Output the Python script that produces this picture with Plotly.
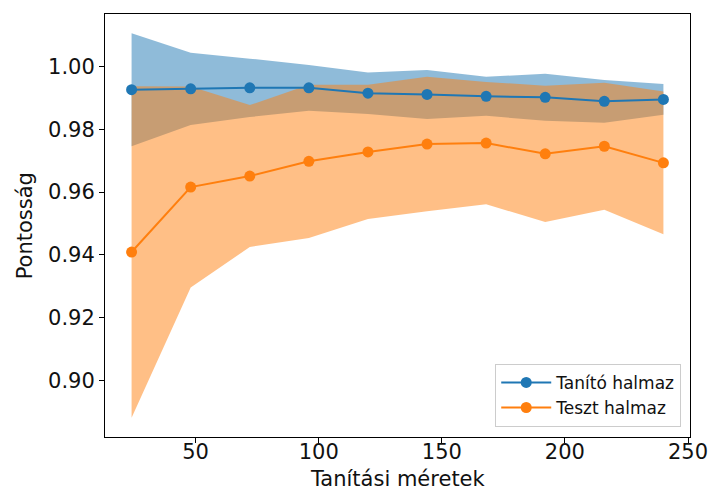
import numpy as np
import plotly.graph_objects as go

# Learning-curve data: training sizes, mean accuracies and their standard deviations
train_sizes = [24, 48, 72, 96, 120, 144, 168, 192, 216, 240]
train_mean = [0.9926, 0.9929, 0.9932, 0.9932, 0.9915, 0.9911, 0.9905, 0.9902, 0.9889, 0.9895]
train_std = [0.0180, 0.0115, 0.0093, 0.0073, 0.0066, 0.0078, 0.0062, 0.0075, 0.0068, 0.0049]
test_mean = [0.9409, 0.9616, 0.9651, 0.9698, 0.9728, 0.9753, 0.9756, 0.9722, 0.9746, 0.9693]
test_std = [0.0528, 0.0320, 0.0226, 0.0244, 0.0214, 0.0214, 0.0195, 0.0217, 0.0202, 0.0227]

labels = ["Tanító halmaz", "Teszt halmaz"]
y_title = "Pontosság"
x_title = "Tanítási méretek"

BLUE = "#1f77b4"
ORANGE = "#ff7f0e"
FONT = "DejaVu Sans"
TEXT = "#111111"

x = np.array(train_sizes)
tr_m, tr_s = np.array(train_mean), np.array(train_std)
te_m, te_s = np.array(test_mean), np.array(test_std)


def band(mean, std, color_rgba):
    xs = np.concatenate([x, x[::-1]])
    ys = np.concatenate([mean + std, (mean - std)[::-1]])
    return go.Scatter(x=xs, y=ys, fill="toself", fillcolor=color_rgba,
                      line=dict(width=0), mode="lines", hoverinfo="skip",
                      showlegend=False)


fig = go.Figure()
fig.add_trace(band(tr_m, tr_s, "rgba(31,119,180,0.5)"))
fig.add_trace(band(te_m, te_s, "rgba(255,127,14,0.5)"))
fig.add_trace(go.Scatter(x=x, y=tr_m, mode="lines+markers", name=labels[0],
                         line=dict(color=BLUE, width=2),
                         marker=dict(color=BLUE, size=11)))
fig.add_trace(go.Scatter(x=x, y=te_m, mode="lines+markers", name=labels[1],
                         line=dict(color=ORANGE, width=2),
                         marker=dict(color=ORANGE, size=11)))

# axis limits with a 5% margin around the data extent
lo = min((tr_m - tr_s).min(), (te_m - te_s).min())
hi = max((tr_m + tr_s).max(), (te_m + te_s).max())
pad_y = 0.05 * (hi - lo)
pad_x = 0.05 * (x.max() - x.min())

axis_common = dict(showline=True, linecolor="black", linewidth=1, mirror=True,
                   ticks="outside", ticklen=5, tickcolor="black", showgrid=False,
                   zeroline=False, ticklabeloverflow="allow", automargin=False,
                   tickfont=dict(family=FONT, size=21, color=TEXT))

fig.update_xaxes(range=[x.min() - pad_x, x.max() + pad_x],
                 tickvals=[50, 100, 150, 200, 250],
                 ticklabelstandoff=-9, **axis_common)
fig.update_yaxes(range=[lo - pad_y, hi + pad_y],
                 tickvals=[0.90, 0.92, 0.94, 0.96, 0.98, 1.00],
                 tickformat=".2f", **axis_common)

# axis titles placed relative to the plotting area
title_font = dict(family=FONT, size=21, color=TEXT)
fig.add_annotation(text=x_title, xref="paper", yref="paper", x=0.5, y=-0.1315,
                   xanchor="center", yanchor="bottom", showarrow=False, font=title_font)
fig.add_annotation(text=y_title, xref="paper", yref="paper", x=-0.137, y=0.5,
                   xanchor="center", yanchor="middle", textangle=-90,
                   showarrow=False, font=title_font)

fig.update_layout(
    width=708, height=493,
    margin=dict(l=105, r=18, t=14, b=56),
    paper_bgcolor="white", plot_bgcolor="white",
    hovermode=False,
    legend=dict(x=0.985, y=0.024, xanchor="right", yanchor="bottom",
                itemwidth=50, tracegroupgap=0,
                bgcolor="rgba(255,255,255,0.8)", bordercolor="#cccccc", borderwidth=1,
                font=dict(family=FONT, size=17, color=TEXT)),
)

fig.write_html("out.html")
